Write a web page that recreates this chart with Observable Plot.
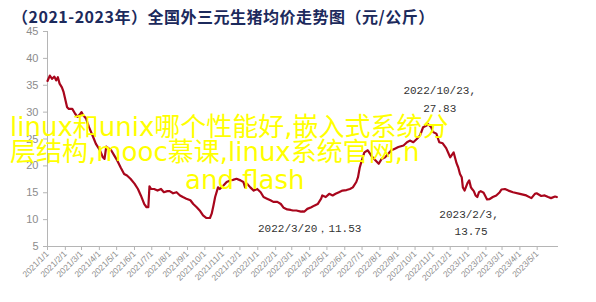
<!DOCTYPE html>
<html>
<head>
<meta charset="utf-8">
<script src="https://cdn.jsdelivr.net/npm/d3@7"></script>
<script src="https://cdn.jsdelivr.net/npm/@observablehq/plot@0.6"></script>
<style>
  html, body { margin: 0; padding: 0; background: #fff; }
  #wrap { position: relative; width: 596px; height: 302px; overflow: hidden; }
  #title { height: 20px; padding-top: 6px; padding-left: 12px; font-family: "Noto Sans CJK SC", sans-serif; font-weight: 700; font-size: 16px; line-height: 20px; color: #1c2a5c; white-space: nowrap; letter-spacing: 0.5px; }
  .ov { position: absolute; font-family: "DejaVu Sans", "Noto Sans CJK SC", sans-serif; font-size: 26px; line-height: 26px; color: #ffff00; white-space: nowrap; }
</style>
</head>
<body>
<div id="wrap">
  <div id="title">（2021-2023年）全国外三元生猪均价走势图（元/公斤）</div>
  <div id="chart"></div>
  <div class="ov" style="left:10px; top:114px;">linux和unix哪个性能好,嵌入式系统分</div>
  <div class="ov" style="left:10px; top:139px;">层结构,mooc慕课,linux系统官网,n</div>
  <div class="ov" style="left:185px; top:167px;">and flash</div>
</div>
<script>
const dates = [
  "2021-01-01","2021-01-05","2021-01-09","2021-01-13","2021-01-16","2021-01-19","2021-01-22","2021-01-26","2021-01-29",
  "2021-02-04","2021-02-07","2021-02-13","2021-02-18","2021-02-22","2021-02-27","2021-03-01","2021-03-04","2021-03-09",
  "2021-03-14","2021-03-20","2021-03-26","2021-04-02","2021-04-07","2021-04-10","2021-04-13","2021-04-18","2021-04-21",
  "2021-04-27","2021-05-02","2021-05-08","2021-05-14","2021-05-19","2021-05-25","2021-06-01","2021-06-07","2021-06-12",
  "2021-06-18","2021-06-22","2021-06-25","2021-06-27","2021-06-30","2021-07-05","2021-07-11","2021-07-17","2021-07-22",
  "2021-07-28","2021-08-01","2021-08-07","2021-08-13","2021-08-19","2021-08-24","2021-08-30","2021-09-06","2021-09-11",
  "2021-09-17","2021-09-23","2021-09-28","2021-10-04","2021-10-10","2021-10-13","2021-10-16","2021-10-19","2021-10-24",
  "2021-10-27","2021-11-02","2021-11-08","2021-11-14","2021-11-19","2021-11-25","2021-12-02","2021-12-07","2021-12-10",
  "2021-12-13","2021-12-19","2021-12-25","2021-12-31","2022-01-06","2022-01-11","2022-01-17","2022-01-23","2022-01-28",
  "2022-02-04","2022-02-10","2022-02-15","2022-02-21","2022-02-27","2022-03-03","2022-03-09","2022-03-17","2022-03-20",
  "2022-03-23","2022-03-28","2022-04-04","2022-04-09","2022-04-15","2022-04-21","2022-04-23","2022-04-29","2022-05-05",
  "2022-05-11","2022-05-16","2022-05-22","2022-05-28","2022-06-04","2022-06-10","2022-06-15","2022-06-21","2022-06-24",
  "2022-06-27","2022-06-30","2022-07-05","2022-07-11","2022-07-17","2022-07-22","2022-07-30","2022-08-04","2022-08-10",
  "2022-08-15","2022-08-21","2022-08-27","2022-09-02","2022-09-11","2022-09-17","2022-09-22","2022-09-28","2022-10-04",
  "2022-10-10","2022-10-15","2022-10-21","2022-10-23","2022-10-29","2022-11-01","2022-11-07","2022-11-12","2022-11-18",
  "2022-11-24","2022-12-01","2022-12-07","2022-12-12","2022-12-15","2022-12-18","2022-12-21","2022-12-23","2022-12-26",
  "2022-12-31","2023-01-03","2023-01-06","2023-01-08","2023-01-11","2023-01-14","2023-01-17","2023-01-20","2023-01-23",
  "2023-01-28","2023-02-03","2023-02-07","2023-02-13","2023-02-19","2023-02-25","2023-02-28","2023-03-06","2023-03-12",
  "2023-03-20","2023-04-01","2023-04-12","2023-04-21","2023-04-27","2023-04-30","2023-05-08","2023-05-14","2023-05-20",
  "2023-05-25","2023-06-01","2023-06-04"
];
const prices = [
  35.8,36.8,36.2,36.6,35.9,36.5,35.3,34.6,33.7,
  30.9,30.6,30.6,29.7,29.1,29.7,30.0,29.4,28.8,
  27.2,25.7,24.1,22.9,21.6,21.3,23.6,23.2,23.0,
  21.9,21.0,19.7,18.5,18.2,17.6,16.7,15.7,14.5,
  12.9,12.3,12.3,16.2,15.7,15.7,15.4,15.7,15.1,
  15.3,15.3,14.9,15.1,14.5,14.2,13.9,13.6,12.9,
  12.3,11.6,10.8,10.3,10.3,11.1,12.6,14.2,16.0,
  15.7,16.3,17.0,17.3,17.4,17.6,17.3,17.0,16.0,
  16.7,16.0,15.4,15.7,15.1,14.2,13.9,13.6,13.3,
  13.3,12.9,12.2,11.9,11.8,11.7,11.7,11.5,11.53,
  11.5,12.0,12.3,12.6,12.9,13.9,14.5,14.2,14.8,
  14.5,14.8,15.1,15.4,15.5,15.7,16.0,17.0,17.9,
  19.7,20.8,22.5,22.9,21.9,21.3,20.4,21.3,21.6,
  22.2,22.9,23.2,23.5,23.8,24.4,24.7,24.4,25.0,
  25.7,27.2,27.5,27.83,27.2,26.3,26.0,24.4,24.2,
  23.3,21.6,22.5,20.5,19.7,18.5,17.9,16.0,15.4,
  16.8,17.3,16.0,15.7,15.3,14.5,14.2,15.1,15.3,
  15.0,13.75,13.8,14.2,14.5,15.1,15.6,15.7,15.4,
  15.1,14.8,14.5,14.0,14.8,14.9,14.4,14.5,14.2,
  14.0,14.3,14.2
];
const xTickLabels = [
  "2021/1/1","2021/2/1","2021/3/1","2021/4/1","2021/5/1","2021/6/1","2021/7/1","2021/8/1","2021/9/1","2021/10/1","2021/11/1","2021/12/1",
  "2022/1/1","2022/2/1","2022/3/1","2022/4/1","2022/5/1","2022/6/1","2022/7/1","2022/8/1","2022/9/1","2022/10/1","2022/11/1","2022/12/1",
  "2023/1/1","2023/2/1","2023/3/1","2023/4/1","2023/5/1"
];
const yTicks = [5, 10, 15, 20, 25, 30, 35, 40, 45];
const xDomainLabels = ["2021/1/1", "2023/6/7"];
const annotationDates = ["2022-10-23", "2023-02-03", "2022-03-20"];
const annotationValues = [27.83, 13.75, 11.53];

const parseSlash = d3.utcParse("%Y/%m/%d");
const parseIso = d3.utcParse("%Y-%m-%d");
const series = dates.map((d, i) => ({date: parseIso(d), price: prices[i]}));
const ticks = xTickLabels.map(parseSlash);
const ann = annotationDates.map((d, i) => ({date: parseIso(d), value: annotationValues[i]}));
const fmt = d3.utcFormat("%Y/%-m/%-d");

const monoFont = "Liberation Mono, DejaVu Sans Mono, monospace";
const axisColor = "#b5b5b5";
const labelColor = "#8c8c8c";

const chart = Plot.plot({
  width: 596,
  height: 276,
  marginTop: 5,
  marginLeft: 47,
  marginRight: 38,
  marginBottom: 56,
  style: {fontFamily: "Liberation Sans, Arial, sans-serif", background: "#fff", overflow: "visible"},
  x: {type: "utc", domain: xDomainLabels.map(parseSlash)},
  y: {domain: [5, 45]},
  marks: [
    Plot.axisY({ticks: yTicks, tickSize: 4, tickPadding: 5, stroke: axisColor, color: labelColor, fontSize: 11, label: null}),
    Plot.axisX({ticks: ticks, tickFormat: fmt, tickRotate: -45, tickSize: 4, tickPadding: 2, stroke: axisColor, color: labelColor, fontSize: 8.5, label: null}),
    Plot.ruleX([parseSlash(xDomainLabels[0])], {stroke: axisColor}),
    Plot.ruleY([5], {stroke: axisColor}),
    Plot.line(series, {x: "date", y: "price", stroke: "#a8061c", strokeWidth: 2.2, curve: "linear"}),
    Plot.text([ann[0]], {x: "date", y: "value", text: d => fmt(d.date) + ",", dx: 12, dy: -33, fontFamily: monoFont, fontSize: 11, fill: "#333"}),
    Plot.text([ann[0]], {x: "date", y: "value", text: d => d.value.toFixed(2), dx: 12, dy: -15, fontFamily: monoFont, fontSize: 11, fill: "#333"}),
    Plot.text([ann[1]], {x: "date", y: "value", text: d => fmt(d.date) + ",", dx: -18, dy: 15, fontFamily: monoFont, fontSize: 11, fill: "#333"}),
    Plot.text([ann[1]], {x: "date", y: "value", text: d => d.value.toFixed(2), dx: -16, dy: 32, fontFamily: monoFont, fontSize: 11, fill: "#333"}),
    Plot.text([ann[2]], {x: "date", y: "value", text: d => fmt(d.date) + "，" + d.value.toFixed(2), dx: 7, dy: 17, fontFamily: monoFont, fontSize: 11, fill: "#333"})
  ]
});
document.getElementById("chart").appendChild(chart);
</script>
</body>
</html>
